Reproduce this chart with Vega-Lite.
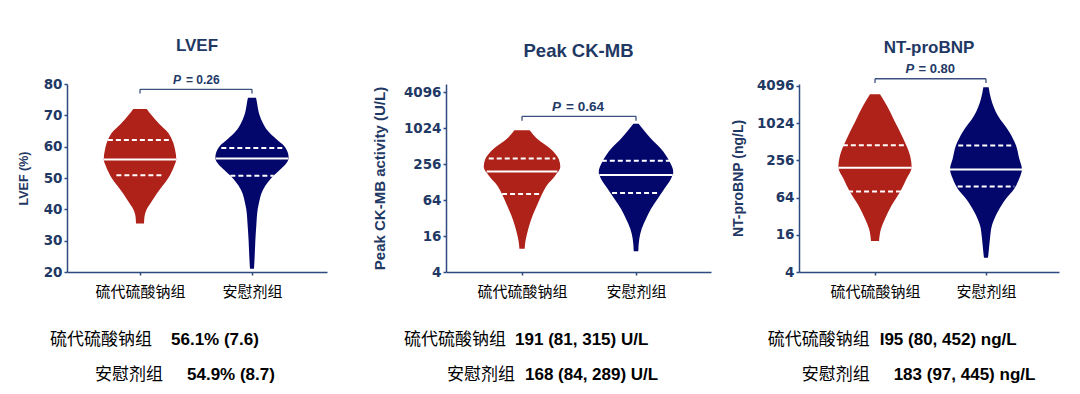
{
  "$schema": "https://vega.github.io/schema/vega-lite/v6.json",
  "padding": {"left": 17, "top": 36, "right": 5, "bottom": 5},
  "background": "white",
  "config": {
    "view": {"stroke": null},
    "axis": {"domainColor": "#2e4a7e", "domainWidth": 1.5, "tickColor": "#2e4a7e", "tickWidth": 1.5, "tickSize": 3, "grid": false, "labelOverlap": false,
      "labelFont": "DejaVu Sans", "labelFontWeight": "bold", "labelFontSize": 13.5, "labelColor": "#1f3864",
      "titleFont": "Liberation Sans", "titleFontWeight": "bold", "titleColor": "#1f3864"},
    "axisX": {"labelFont": "Noto Sans CJK SC", "labelFontWeight": "normal", "labelFontSize": 15, "labelColor": "#000000", "labelPadding": 9, "labelFlush": false},
    "title": {"font": "Liberation Sans", "fontWeight": "bold", "color": "#1f3864", "anchor": "middle", "frame": "group", "baseline": "alphabetic"}
  },
  "datasets": {
    "one": [{"k": 1}],
    "violin": [
      {"panel":"LVEF","group":"硫代硫酸钠组","v":72,"xl":-0.06,"xr":0.06},
      {"panel":"LVEF","group":"硫代硫酸钠组","v":70,"xl":-0.104,"xr":0.104},
      {"panel":"LVEF","group":"硫代硫酸钠组","v":67,"xl":-0.179,"xr":0.179},
      {"panel":"LVEF","group":"硫代硫酸钠组","v":65,"xl":-0.238,"xr":0.238},
      {"panel":"LVEF","group":"硫代硫酸钠组","v":62,"xl":-0.289,"xr":0.289},
      {"panel":"LVEF","group":"硫代硫酸钠组","v":59,"xl":-0.313,"xr":0.313},
      {"panel":"LVEF","group":"硫代硫酸钠组","v":56,"xl":-0.324,"xr":0.324},
      {"panel":"LVEF","group":"硫代硫酸钠组","v":54,"xl":-0.307,"xr":0.307},
      {"panel":"LVEF","group":"硫代硫酸钠组","v":52,"xl":-0.283,"xr":0.283},
      {"panel":"LVEF","group":"硫代硫酸钠组","v":50,"xl":-0.253,"xr":0.253},
      {"panel":"LVEF","group":"硫代硫酸钠组","v":47.5,"xl":-0.202,"xr":0.202},
      {"panel":"LVEF","group":"硫代硫酸钠组","v":45,"xl":-0.149,"xr":0.149},
      {"panel":"LVEF","group":"硫代硫酸钠组","v":42.5,"xl":-0.104,"xr":0.104},
      {"panel":"LVEF","group":"硫代硫酸钠组","v":40,"xl":-0.06,"xr":0.06},
      {"panel":"LVEF","group":"硫代硫酸钠组","v":37.5,"xl":-0.039,"xr":0.039},
      {"panel":"LVEF","group":"硫代硫酸钠组","v":35.5,"xl":-0.036,"xr":0.036},
      {"panel":"LVEF","group":"安慰剂组","v":75.6,"xl":0.964,"xr":1.036},
      {"panel":"LVEF","group":"安慰剂组","v":74,"xl":0.955,"xr":1.045},
      {"panel":"LVEF","group":"安慰剂组","v":72,"xl":0.946,"xr":1.054},
      {"panel":"LVEF","group":"安慰剂组","v":70,"xl":0.932,"xr":1.068},
      {"panel":"LVEF","group":"安慰剂组","v":67.5,"xl":0.902,"xr":1.098},
      {"panel":"LVEF","group":"安慰剂组","v":65,"xl":0.857,"xr":1.143},
      {"panel":"LVEF","group":"安慰剂组","v":62.5,"xl":0.786,"xr":1.214},
      {"panel":"LVEF","group":"安慰剂组","v":60,"xl":0.708,"xr":1.292},
      {"panel":"LVEF","group":"安慰剂组","v":58,"xl":0.679,"xr":1.321},
      {"panel":"LVEF","group":"安慰剂组","v":56.5,"xl":0.673,"xr":1.327},
      {"panel":"LVEF","group":"安慰剂组","v":55,"xl":0.687,"xr":1.313},
      {"panel":"LVEF","group":"安慰剂组","v":53,"xl":0.738,"xr":1.262},
      {"panel":"LVEF","group":"安慰剂组","v":50,"xl":0.827,"xr":1.173},
      {"panel":"LVEF","group":"安慰剂组","v":47.5,"xl":0.881,"xr":1.119},
      {"panel":"LVEF","group":"安慰剂组","v":45,"xl":0.917,"xr":1.083},
      {"panel":"LVEF","group":"安慰剂组","v":42.5,"xl":0.935,"xr":1.065},
      {"panel":"LVEF","group":"安慰剂组","v":40,"xl":0.949,"xr":1.051},
      {"panel":"LVEF","group":"安慰剂组","v":35,"xl":0.961,"xr":1.039},
      {"panel":"LVEF","group":"安慰剂组","v":30,"xl":0.97,"xr":1.03},
      {"panel":"LVEF","group":"安慰剂组","v":25,"xl":0.976,"xr":1.024},
      {"panel":"LVEF","group":"安慰剂组","v":21,"xl":0.982,"xr":1.018},

      {"panel":"CKMB","group":"硫代硫酸钠组","v":936,"xl":-0.067,"xr":0.067},
      {"panel":"CKMB","group":"硫代硫酸钠组","v":679,"xl":-0.132,"xr":0.132},
      {"panel":"CKMB","group":"硫代硫酸钠组","v":462,"xl":-0.249,"xr":0.249},
      {"panel":"CKMB","group":"硫代硫酸钠组","v":310,"xl":-0.322,"xr":0.322},
      {"panel":"CKMB","group":"硫代硫酸钠组","v":228,"xl":-0.336,"xr":0.336},
      {"panel":"CKMB","group":"硫代硫酸钠组","v":165,"xl":-0.292,"xr":0.292},
      {"panel":"CKMB","group":"硫代硫酸钠组","v":113,"xl":-0.219,"xr":0.219},
      {"panel":"CKMB","group":"硫代硫酸钠组","v":79.6,"xl":-0.175,"xr":0.175},
      {"panel":"CKMB","group":"硫代硫酸钠组","v":52.1,"xl":-0.132,"xr":0.132},
      {"panel":"CKMB","group":"硫代硫酸钠组","v":35.5,"xl":-0.094,"xr":0.094},
      {"panel":"CKMB","group":"硫代硫酸钠组","v":24.1,"xl":-0.064,"xr":0.064},
      {"panel":"CKMB","group":"硫代硫酸钠组","v":16.4,"xl":-0.041,"xr":0.041},
      {"panel":"CKMB","group":"硫代硫酸钠组","v":12.7,"xl":-0.029,"xr":0.029},
      {"panel":"CKMB","group":"硫代硫酸钠组","v":9.8,"xl":-0.023,"xr":0.023},
      {"panel":"CKMB","group":"安慰剂组","v":1210,"xl":0.977,"xr":1.023},
      {"panel":"CKMB","group":"安慰剂组","v":998,"xl":0.942,"xr":1.058},
      {"panel":"CKMB","group":"安慰剂组","v":679,"xl":0.868,"xr":1.132},
      {"panel":"CKMB","group":"安慰剂组","v":462,"xl":0.781,"xr":1.219},
      {"panel":"CKMB","group":"安慰剂组","v":287,"xl":0.708,"xr":1.292},
      {"panel":"CKMB","group":"安慰剂组","v":188,"xl":0.673,"xr":1.327},
      {"panel":"CKMB","group":"安慰剂组","v":145.5,"xl":0.693,"xr":1.307},
      {"panel":"CKMB","group":"安慰剂组","v":99,"xl":0.751,"xr":1.249},
      {"panel":"CKMB","group":"安慰剂组","v":67.4,"xl":0.81,"xr":1.19},
      {"panel":"CKMB","group":"安慰剂组","v":45.8,"xl":0.868,"xr":1.132},
      {"panel":"CKMB","group":"安慰剂组","v":31.2,"xl":0.912,"xr":1.088},
      {"panel":"CKMB","group":"安慰剂组","v":21.2,"xl":0.95,"xr":1.05},
      {"panel":"CKMB","group":"安慰剂组","v":14.4,"xl":0.971,"xr":1.029},
      {"panel":"CKMB","group":"安慰剂组","v":8.9,"xl":0.98,"xr":1.02},

      {"panel":"BNP","group":"硫代硫酸钠组","v":3003,"xl":-0.045,"xr":0.045},
      {"panel":"BNP","group":"硫代硫酸钠组","v":1994,"xl":-0.105,"xr":0.105},
      {"panel":"BNP","group":"硫代硫酸钠组","v":1071,"xl":-0.18,"xr":0.18},
      {"panel":"BNP","group":"硫代硫酸钠组","v":575,"xl":-0.255,"xr":0.255},
      {"panel":"BNP","group":"硫代硫酸钠组","v":309,"xl":-0.315,"xr":0.315},
      {"panel":"BNP","group":"硫代硫酸钠组","v":198,"xl":-0.33,"xr":0.33},
      {"panel":"BNP","group":"硫代硫酸钠组","v":130,"xl":-0.285,"xr":0.285},
      {"panel":"BNP","group":"硫代硫酸钠组","v":78.9,"xl":-0.225,"xr":0.225},
      {"panel":"BNP","group":"硫代硫酸钠组","v":48,"xl":-0.15,"xr":0.15},
      {"panel":"BNP","group":"硫代硫酸钠组","v":29.2,"xl":-0.09,"xr":0.09},
      {"panel":"BNP","group":"硫代硫酸钠组","v":20.1,"xl":-0.054,"xr":0.054},
      {"panel":"BNP","group":"硫代硫酸钠组","v":12.7,"xl":-0.036,"xr":0.036},
      {"panel":"BNP","group":"安慰剂组","v":3900,"xl":0.976,"xr":1.024},
      {"panel":"BNP","group":"安慰剂组","v":2555,"xl":0.955,"xr":1.045},
      {"panel":"BNP","group":"安慰剂组","v":1373,"xl":0.895,"xr":1.105},
      {"panel":"BNP","group":"安慰剂组","v":738,"xl":0.79,"xr":1.21},
      {"panel":"BNP","group":"安慰剂组","v":449,"xl":0.73,"xr":1.27},
      {"panel":"BNP","group":"安慰剂组","v":273,"xl":0.7,"xr":1.3},
      {"panel":"BNP","group":"安慰剂组","v":186,"xl":0.676,"xr":1.324},
      {"panel":"BNP","group":"安慰剂组","v":130,"xl":0.7,"xr":1.3},
      {"panel":"BNP","group":"安慰剂组","v":89.3,"xl":0.745,"xr":1.255},
      {"panel":"BNP","group":"安慰剂组","v":61.5,"xl":0.82,"xr":1.18},
      {"panel":"BNP","group":"安慰剂组","v":37.4,"xl":0.895,"xr":1.105},
      {"panel":"BNP","group":"安慰剂组","v":22.8,"xl":0.946,"xr":1.054},
      {"panel":"BNP","group":"安慰剂组","v":13.9,"xl":0.964,"xr":1.036},
      {"panel":"BNP","group":"安慰剂组","v":8.4,"xl":0.976,"xr":1.024},
      {"panel":"BNP","group":"安慰剂组","v":6.8,"xl":0.982,"xr":1.018}
    ],
    "stats": [
      {"panel":"LVEF","stat":"median","v":55.9,"xl":-0.324,"xr":0.324},
      {"panel":"LVEF","stat":"quartile","v":62.1,"xl":-0.287,"xr":0.287},
      {"panel":"LVEF","stat":"quartile","v":50.9,"xl":-0.211,"xr":0.211},
      {"panel":"LVEF","stat":"median","v":56.2,"xl":0.676,"xr":1.324},
      {"panel":"LVEF","stat":"quartile","v":59.6,"xl":0.726,"xr":1.274},
      {"panel":"LVEF","stat":"quartile","v":50.7,"xl":0.807,"xr":1.193},
      {"panel":"CKMB","stat":"median","v":191,"xl":-0.31,"xr":0.31},
      {"panel":"CKMB","stat":"quartile","v":315,"xl":-0.292,"xr":0.292},
      {"panel":"CKMB","stat":"quartile","v":81,"xl":-0.175,"xr":0.175},
      {"panel":"CKMB","stat":"median","v":168,"xl":0.678,"xr":1.322},
      {"panel":"CKMB","stat":"quartile","v":289,"xl":0.7,"xr":1.3},
      {"panel":"CKMB","stat":"quartile","v":84,"xl":0.79,"xr":1.21},
      {"panel":"BNP","stat":"median","v":195,"xl":-0.33,"xr":0.33},
      {"panel":"BNP","stat":"quartile","v":452,"xl":-0.29,"xr":0.29},
      {"panel":"BNP","stat":"quartile","v":80,"xl":-0.243,"xr":0.243},
      {"panel":"BNP","stat":"median","v":183,"xl":0.673,"xr":1.327},
      {"panel":"BNP","stat":"quartile","v":445,"xl":0.75,"xr":1.25},
      {"panel":"BNP","stat":"quartile","v":97,"xl":0.745,"xr":1.255}
    ],
    "summary": [
      {"panel":"LVEF","line":1,"label":"硫代硫酸钠组","lx":0.107,"value":"56.1% (7.6)","vx":0.277},
      {"panel":"LVEF","line":2,"label":"安慰剂组","lx":0.205,"value":"54.9% (8.7)","vx":0.42},
      {"panel":"CKMB","line":1,"label":"硫代硫酸钠组","lx":-0.14,"value":"191 (81, 315) U/L","vx":-0.061},
      {"panel":"CKMB","line":2,"label":"安慰剂组","lx":-0.061,"value":"168 (84, 289) U/L","vx":0.026},
      {"panel":"BNP","line":1,"label":"硫代硫酸钠组","lx":-0.048,"value":"I95 (80, 452) ng/L","vx":0.042},
      {"panel":"BNP","line":2,"label":"安慰剂组","lx":-0.048,"value":"183 (97, 445) ng/L","vx":0.168}
    ]
  },
  "spacing": 45,
  "hconcat": [
    {
      "spacing": 32,
      "vconcat": [
        {
          "width": 260, "height": 188,
          "title": {"text": "LVEF", "fontSize": 17, "offset": 19},
          "layer": [
            {
              "data": {"name": "violin"},
              "transform": [{"filter": "datum.panel == 'LVEF'"}],
              "mark": {"type": "area", "orient": "horizontal", "interpolate": "monotone"},
              "encoding": {
                "y": {"field": "v", "type": "quantitative", "scale": {"domain": [20, 80], "nice": false, "zero": false},
                  "axis": {"values": [20, 30, 40, 50, 60, 70, 80], "title": "LVEF (%)", "titleFontSize": 12.5, "titlePadding": 13}},
                "x": {"field": "xl", "type": "quantitative", "scale": {"domain": [-0.652, 1.67], "nice": false, "zero": false},
                  "axis": {"values": [0, 1], "title": null, "labelExpr": "datum.value == 0 ? '硫代硫酸钠组' : '安慰剂组'"}},
                "x2": {"field": "xr"},
                "color": {"field": "group", "type": "nominal", "scale": {"domain": ["硫代硫酸钠组", "安慰剂组"], "range": ["#ae2219", "#03066b"]}, "legend": null}
              }
            },
            {
              "data": {"name": "stats"},
              "transform": [{"filter": "datum.panel == 'LVEF'"}],
              "mark": {"type": "rule", "color": "white", "strokeWidth": 2},
              "encoding": {
                "y": {"field": "v", "type": "quantitative", "axis": {"values": [20, 30, 40, 50, 60, 70, 80], "title": "LVEF (%)", "titleFontSize": 12.5, "titlePadding": 13}},
                "x": {"field": "xl", "type": "quantitative", "axis": {"values": [0, 1], "title": null, "labelExpr": "datum.value == 0 ? '硫代硫酸钠组' : '安慰剂组'"}},
                "x2": {"field": "xr"},
                "strokeDash": {"field": "stat", "type": "nominal", "scale": {"domain": ["median", "quartile"], "range": [[1, 0], [5, 3]]}, "legend": null}
              }
            },
            {"data": {"name": "one"}, "mark": {"type": "rule", "color": "#3a5080", "strokeWidth": 1.3}, "encoding": {"x": {"datum": 0, "type": "quantitative", "axis": {"values": [0, 1], "title": null, "labelExpr": "datum.value == 0 ? '硫代硫酸钠组' : '安慰剂组'"}}, "x2": {"datum": 1}, "y": {"datum": 78.3, "type": "quantitative", "axis": {"values": [20, 30, 40, 50, 60, 70, 80], "title": "LVEF (%)", "titleFontSize": 12.5, "titlePadding": 13}}}},
            {"data": {"name": "one"}, "mark": {"type": "rule", "color": "#3a5080", "strokeWidth": 1.3}, "encoding": {"x": {"datum": 0, "type": "quantitative", "axis": {"values": [0, 1], "title": null, "labelExpr": "datum.value == 0 ? '硫代硫酸钠组' : '安慰剂组'"}}, "y": {"datum": 78.3, "type": "quantitative", "axis": {"values": [20, 30, 40, 50, 60, 70, 80], "title": "LVEF (%)", "titleFontSize": 12.5, "titlePadding": 13}}, "y2": {"datum": 77.0}}},
            {"data": {"name": "one"}, "mark": {"type": "rule", "color": "#3a5080", "strokeWidth": 1.3}, "encoding": {"x": {"datum": 1, "type": "quantitative", "axis": {"values": [0, 1], "title": null, "labelExpr": "datum.value == 0 ? '硫代硫酸钠组' : '安慰剂组'"}}, "y": {"datum": 78.3, "type": "quantitative", "axis": {"values": [20, 30, 40, 50, 60, 70, 80], "title": "LVEF (%)", "titleFontSize": 12.5, "titlePadding": 13}}, "y2": {"datum": 77.0}}},
            {"data": {"name": "one"}, "mark": {"type": "text", "text": "P", "font": "Liberation Sans", "fontWeight": "bold", "fontStyle": "italic", "fontSize": 12, "color": "#233a67", "align": "left", "baseline": "middle", "dx": -23}, "encoding": {"x": {"datum": 0.5, "type": "quantitative", "axis": {"values": [0, 1], "title": null, "labelExpr": "datum.value == 0 ? '硫代硫酸钠组' : '安慰剂组'"}}, "y": {"datum": 81.3, "type": "quantitative", "axis": {"values": [20, 30, 40, 50, 60, 70, 80], "title": "LVEF (%)", "titleFontSize": 12.5, "titlePadding": 13}}}},
            {"data": {"name": "one"}, "mark": {"type": "text", "text": "= 0.26", "font": "Liberation Sans", "fontWeight": "bold", "fontSize": 12, "color": "#233a67", "align": "left", "baseline": "middle", "dx": -10}, "encoding": {"x": {"datum": 0.5, "type": "quantitative", "axis": {"values": [0, 1], "title": null, "labelExpr": "datum.value == 0 ? '硫代硫酸钠组' : '安慰剂组'"}}, "y": {"datum": 81.3, "type": "quantitative", "axis": {"values": [20, 30, 40, 50, 60, 70, 80], "title": "LVEF (%)", "titleFontSize": 12.5, "titlePadding": 13}}}}
          ]
        },
        {
          "width": 260, "height": 35,
          "data": {"name": "summary"},
          "transform": [{"filter": "datum.panel == 'LVEF'"}],
          "encoding": {
            "y": {"field": "line", "type": "quantitative", "scale": {"domain": [1, 2], "reverse": true}, "axis": null}
          },
          "layer": [
            {"mark": {"type": "text", "align": "right", "baseline": "middle", "font": "Noto Sans CJK SC", "fontSize": 17, "color": "#000000"},
             "encoding": {"x": {"field": "lx", "type": "quantitative", "scale": {"domain": [-0.652, 1.67], "nice": false, "zero": false}, "axis": null}, "text": {"field": "label"}}},
            {"mark": {"type": "text", "align": "left", "baseline": "middle", "font": "Liberation Sans", "fontWeight": "bold", "fontSize": 17, "color": "#000000"},
             "encoding": {"x": {"field": "vx", "type": "quantitative", "axis": null}, "text": {"field": "value"}}}
          ]
        }
      ]
    },
    {
      "spacing": 20,
      "hconcat": [
        {
          "spacing": 32,
          "vconcat": [
            {
              "width": 265, "height": 188,
              "title": {"text": "Peak CK-MB", "fontSize": 18.5, "offset": 24},
              "layer": [
                {
                  "data": {"name": "violin"},
                  "transform": [{"filter": "datum.panel == 'CKMB'"}],
                  "mark": {"type": "area", "orient": "horizontal", "interpolate": "monotone"},
                  "encoding": {
                    "y": {"field": "v", "type": "quantitative", "scale": {"type": "log", "base": 2, "domain": [4, 5574], "nice": false},
                      "axis": {"values": [4, 16, 64, 256, 1024, 4096], "format": "d", "title": "Peak CK-MB activity (U/L)", "titleFontSize": 15, "titlePadding": 16}},
                    "x": {"field": "xl", "type": "quantitative", "scale": {"domain": [-0.667, 1.658], "nice": false, "zero": false},
                      "axis": {"values": [0, 1], "title": null, "labelExpr": "datum.value == 0 ? '硫代硫酸钠组' : '安慰剂组'"}},
                    "x2": {"field": "xr"},
                    "color": {"field": "group", "type": "nominal", "scale": {"domain": ["硫代硫酸钠组", "安慰剂组"], "range": ["#ae2219", "#03066b"]}, "legend": null}
                  }
                },
                {
                  "data": {"name": "stats"},
                  "transform": [{"filter": "datum.panel == 'CKMB'"}],
                  "mark": {"type": "rule", "color": "white", "strokeWidth": 2},
                  "encoding": {
                    "y": {"field": "v", "type": "quantitative", "axis": {"values": [4, 16, 64, 256, 1024, 4096], "format": "d", "title": "Peak CK-MB activity (U/L)", "titleFontSize": 15, "titlePadding": 16}},
                    "x": {"field": "xl", "type": "quantitative", "axis": {"values": [0, 1], "title": null, "labelExpr": "datum.value == 0 ? '硫代硫酸钠组' : '安慰剂组'"}},
                    "x2": {"field": "xr"},
                    "strokeDash": {"field": "stat", "type": "nominal", "scale": {"domain": ["median", "quartile"], "range": [[1, 0], [5, 3]]}, "legend": null}
                  }
                },
                {"data": {"name": "one"}, "mark": {"type": "rule", "color": "#3a5080", "strokeWidth": 1.3}, "encoding": {"x": {"datum": 0, "type": "quantitative", "axis": {"values": [0, 1], "title": null, "labelExpr": "datum.value == 0 ? '硫代硫酸钠组' : '安慰剂组'"}}, "x2": {"datum": 1}, "y": {"datum": 1606, "type": "quantitative", "axis": {"values": [4, 16, 64, 256, 1024, 4096], "format": "d", "title": "Peak CK-MB activity (U/L)", "titleFontSize": 15, "titlePadding": 16}}}},
                {"data": {"name": "one"}, "mark": {"type": "rule", "color": "#3a5080", "strokeWidth": 1.3}, "encoding": {"x": {"datum": 0, "type": "quantitative", "axis": {"values": [0, 1], "title": null, "labelExpr": "datum.value == 0 ? '硫代硫酸钠组' : '安慰剂组'"}}, "y": {"datum": 1606, "type": "quantitative", "axis": {"values": [4, 16, 64, 256, 1024, 4096], "format": "d", "title": "Peak CK-MB activity (U/L)", "titleFontSize": 15, "titlePadding": 16}}, "y2": {"datum": 1360}}},
                {"data": {"name": "one"}, "mark": {"type": "rule", "color": "#3a5080", "strokeWidth": 1.3}, "encoding": {"x": {"datum": 1, "type": "quantitative", "axis": {"values": [0, 1], "title": null, "labelExpr": "datum.value == 0 ? '硫代硫酸钠组' : '安慰剂组'"}}, "y": {"datum": 1606, "type": "quantitative", "axis": {"values": [4, 16, 64, 256, 1024, 4096], "format": "d", "title": "Peak CK-MB activity (U/L)", "titleFontSize": 15, "titlePadding": 16}}, "y2": {"datum": 1360}}},
                {"data": {"name": "one"}, "mark": {"type": "text", "text": "P", "font": "Liberation Sans", "fontWeight": "bold", "fontStyle": "italic", "fontSize": 13.5, "color": "#233a67", "align": "left", "baseline": "middle", "dx": -27}, "encoding": {"x": {"datum": 0.5, "type": "quantitative", "axis": {"values": [0, 1], "title": null, "labelExpr": "datum.value == 0 ? '硫代硫酸钠组' : '安慰剂组'"}}, "y": {"datum": 2300, "type": "quantitative", "axis": {"values": [4, 16, 64, 256, 1024, 4096], "format": "d", "title": "Peak CK-MB activity (U/L)", "titleFontSize": 15, "titlePadding": 16}}}},
                {"data": {"name": "one"}, "mark": {"type": "text", "text": "= 0.64", "font": "Liberation Sans", "fontWeight": "bold", "fontSize": 13.5, "color": "#233a67", "align": "left", "baseline": "middle", "dx": -13}, "encoding": {"x": {"datum": 0.5, "type": "quantitative", "axis": {"values": [0, 1], "title": null, "labelExpr": "datum.value == 0 ? '硫代硫酸钠组' : '安慰剂组'"}}, "y": {"datum": 2300, "type": "quantitative", "axis": {"values": [4, 16, 64, 256, 1024, 4096], "format": "d", "title": "Peak CK-MB activity (U/L)", "titleFontSize": 15, "titlePadding": 16}}}}
              ]
            },
            {
              "width": 265, "height": 35,
              "data": {"name": "summary"},
              "transform": [{"filter": "datum.panel == 'CKMB'"}],
              "encoding": {
                "y": {"field": "line", "type": "quantitative", "scale": {"domain": [1, 2], "reverse": true}, "axis": null}
              },
              "layer": [
                {"mark": {"type": "text", "align": "right", "baseline": "middle", "font": "Noto Sans CJK SC", "fontSize": 17, "color": "#000000"},
                 "encoding": {"x": {"field": "lx", "type": "quantitative", "scale": {"domain": [-0.667, 1.658], "nice": false, "zero": false}, "axis": null}, "text": {"field": "label"}}},
                {"mark": {"type": "text", "align": "left", "baseline": "middle", "font": "Liberation Sans", "fontWeight": "bold", "fontSize": 17, "color": "#000000"},
                 "encoding": {"x": {"field": "vx", "type": "quantitative", "axis": null}, "text": {"field": "value"}}}
              ]
            }
          ]
        },
        {
          "spacing": 32,
          "vconcat": [
            {
              "width": 260, "height": 188,
              "title": {"text": "NT-proBNP", "fontSize": 17, "offset": 6},
              "layer": [
                {
                  "data": {"name": "violin"},
                  "transform": [{"filter": "datum.panel == 'BNP'"}],
                  "mark": {"type": "area", "orient": "horizontal", "interpolate": "monotone"},
                  "encoding": {
                    "y": {"field": "v", "type": "quantitative", "scale": {"type": "log", "base": 2, "domain": [4, 4412], "nice": false},
                      "axis": {"values": [4, 16, 64, 256, 1024, 4096], "format": "d", "title": "NT-proBNP (ng/L)", "titleFontSize": 14, "titlePadding": 11}},
                    "x": {"field": "xl", "type": "quantitative", "scale": {"domain": [-0.685, 1.658], "nice": false, "zero": false},
                      "axis": {"values": [0, 1], "title": null, "labelExpr": "datum.value == 0 ? '硫代硫酸钠组' : '安慰剂组'"}},
                    "x2": {"field": "xr"},
                    "color": {"field": "group", "type": "nominal", "scale": {"domain": ["硫代硫酸钠组", "安慰剂组"], "range": ["#ae2219", "#03066b"]}, "legend": null}
                  }
                },
                {
                  "data": {"name": "stats"},
                  "transform": [{"filter": "datum.panel == 'BNP'"}],
                  "mark": {"type": "rule", "color": "white", "strokeWidth": 2},
                  "encoding": {
                    "y": {"field": "v", "type": "quantitative", "axis": {"values": [4, 16, 64, 256, 1024, 4096], "format": "d", "title": "NT-proBNP (ng/L)", "titleFontSize": 14, "titlePadding": 11}},
                    "x": {"field": "xl", "type": "quantitative", "axis": {"values": [0, 1], "title": null, "labelExpr": "datum.value == 0 ? '硫代硫酸钠组' : '安慰剂组'"}},
                    "x2": {"field": "xr"},
                    "strokeDash": {"field": "stat", "type": "nominal", "scale": {"domain": ["median", "quartile"], "range": [[1, 0], [5, 3]]}, "legend": null}
                  }
                },
                {"data": {"name": "one"}, "mark": {"type": "rule", "color": "#3a5080", "strokeWidth": 1.3}, "encoding": {"x": {"datum": 0, "type": "quantitative", "axis": {"values": [0, 1], "title": null, "labelExpr": "datum.value == 0 ? '硫代硫酸钠组' : '安慰剂组'"}}, "x2": {"datum": 1}, "y": {"datum": 5370, "type": "quantitative", "axis": {"values": [4, 16, 64, 256, 1024, 4096], "format": "d", "title": "NT-proBNP (ng/L)", "titleFontSize": 14, "titlePadding": 11}}}},
                {"data": {"name": "one"}, "mark": {"type": "rule", "color": "#3a5080", "strokeWidth": 1.3}, "encoding": {"x": {"datum": 0, "type": "quantitative", "axis": {"values": [0, 1], "title": null, "labelExpr": "datum.value == 0 ? '硫代硫酸钠组' : '安慰剂组'"}}, "y": {"datum": 5370, "type": "quantitative", "axis": {"values": [4, 16, 64, 256, 1024, 4096], "format": "d", "title": "NT-proBNP (ng/L)", "titleFontSize": 14, "titlePadding": 11}}, "y2": {"datum": 4580}}},
                {"data": {"name": "one"}, "mark": {"type": "rule", "color": "#3a5080", "strokeWidth": 1.3}, "encoding": {"x": {"datum": 1, "type": "quantitative", "axis": {"values": [0, 1], "title": null, "labelExpr": "datum.value == 0 ? '硫代硫酸钠组' : '安慰剂组'"}}, "y": {"datum": 5370, "type": "quantitative", "axis": {"values": [4, 16, 64, 256, 1024, 4096], "format": "d", "title": "NT-proBNP (ng/L)", "titleFontSize": 14, "titlePadding": 11}}, "y2": {"datum": 4580}}},
                {"data": {"name": "one"}, "mark": {"type": "text", "text": "P", "font": "Liberation Sans", "fontWeight": "bold", "fontStyle": "italic", "fontSize": 13, "color": "#233a67", "align": "left", "baseline": "middle", "dx": -25}, "encoding": {"x": {"datum": 0.5, "type": "quantitative", "axis": {"values": [0, 1], "title": null, "labelExpr": "datum.value == 0 ? '硫代硫酸钠组' : '安慰剂组'"}}, "y": {"datum": 7800, "type": "quantitative", "axis": {"values": [4, 16, 64, 256, 1024, 4096], "format": "d", "title": "NT-proBNP (ng/L)", "titleFontSize": 14, "titlePadding": 11}}}},
                {"data": {"name": "one"}, "mark": {"type": "text", "text": "= 0.80", "font": "Liberation Sans", "fontWeight": "bold", "fontSize": 13, "color": "#233a67", "align": "left", "baseline": "middle", "dx": -12}, "encoding": {"x": {"datum": 0.5, "type": "quantitative", "axis": {"values": [0, 1], "title": null, "labelExpr": "datum.value == 0 ? '硫代硫酸钠组' : '安慰剂组'"}}, "y": {"datum": 7800, "type": "quantitative", "axis": {"values": [4, 16, 64, 256, 1024, 4096], "format": "d", "title": "NT-proBNP (ng/L)", "titleFontSize": 14, "titlePadding": 11}}}}
              ]
            },
            {
              "width": 260, "height": 35,
              "data": {"name": "summary"},
              "transform": [{"filter": "datum.panel == 'BNP'"}],
              "encoding": {
                "y": {"field": "line", "type": "quantitative", "scale": {"domain": [1, 2], "reverse": true}, "axis": null}
              },
              "layer": [
                {"mark": {"type": "text", "align": "right", "baseline": "middle", "font": "Noto Sans CJK SC", "fontSize": 17, "color": "#000000"},
                 "encoding": {"x": {"field": "lx", "type": "quantitative", "scale": {"domain": [-0.685, 1.658], "nice": false, "zero": false}, "axis": null}, "text": {"field": "label"}}},
                {"mark": {"type": "text", "align": "left", "baseline": "middle", "font": "Liberation Sans", "fontWeight": "bold", "fontSize": 17, "color": "#000000"},
                 "encoding": {"x": {"field": "vx", "type": "quantitative", "axis": null}, "text": {"field": "value"}}}
              ]
            }
          ]
        }
      ]
    }
  ]
}
